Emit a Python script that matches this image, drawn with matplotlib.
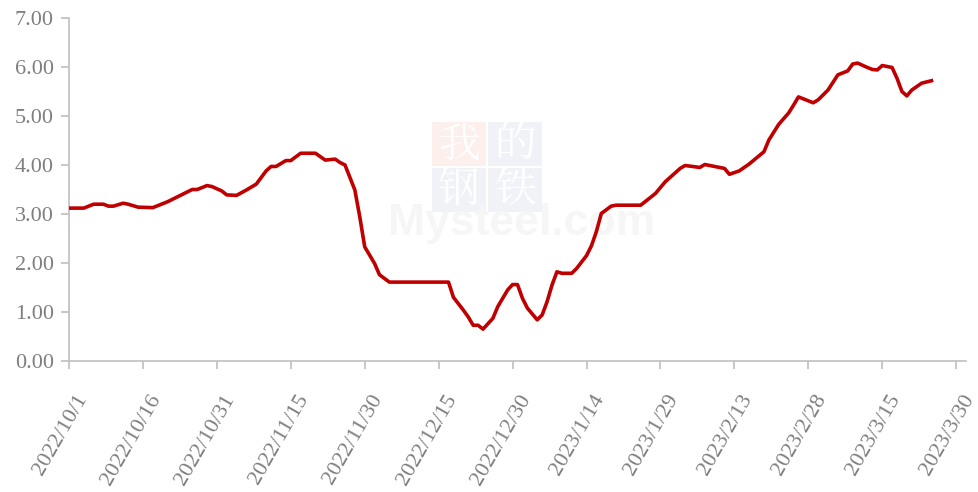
import matplotlib.pyplot as plt
import matplotlib.transforms as mtransforms
from matplotlib.patches import Rectangle
import pandas as pd

# ======================
# 数据
# ======================
dates = [
    "2022-10-01", "2022-10-04", "2022-10-06", "2022-10-08", "2022-10-09", "2022-10-10",
    "2022-10-12", "2022-10-13", "2022-10-15", "2022-10-18", "2022-10-21", "2022-10-23",
    "2022-10-26", "2022-10-27", "2022-10-29", "2022-10-30", "2022-11-01", "2022-11-02",
    "2022-11-04", "2022-11-06", "2022-11-08", "2022-11-10", "2022-11-11", "2022-11-12",
    "2022-11-14", "2022-11-15", "2022-11-17", "2022-11-20", "2022-11-22", "2022-11-24",
    "2022-11-25", "2022-11-26", "2022-11-28", "2022-11-29", "2022-11-30", "2022-12-02",
    "2022-12-03", "2022-12-05", "2022-12-17", "2022-12-18", "2022-12-20", "2022-12-21",
    "2022-12-22", "2022-12-23", "2022-12-24", "2022-12-26", "2022-12-27", "2022-12-29",
    "2022-12-30", "2022-12-31", "2023-01-01", "2023-01-02", "2023-01-04", "2023-01-05",
    "2023-01-06", "2023-01-07", "2023-01-08", "2023-01-09", "2023-01-11", "2023-01-12",
    "2023-01-14", "2023-01-15", "2023-01-16", "2023-01-17", "2023-01-19", "2023-01-20",
    "2023-01-25", "2023-01-28", "2023-01-30", "2023-02-02", "2023-02-03", "2023-02-06",
    "2023-02-07", "2023-02-11", "2023-02-12", "2023-02-14", "2023-02-16", "2023-02-19",
    "2023-02-20", "2023-02-22", "2023-02-24", "2023-02-25", "2023-02-26", "2023-02-28",
    "2023-03-01", "2023-03-02", "2023-03-04", "2023-03-06", "2023-03-08", "2023-03-09",
    "2023-03-10", "2023-03-12", "2023-03-13", "2023-03-14", "2023-03-15", "2023-03-17",
    "2023-03-18", "2023-03-19", "2023-03-20", "2023-03-21", "2023-03-23", "2023-03-25",
]
values = [
    3.12, 3.12, 3.20, 3.20, 3.16, 3.16,
    3.22, 3.20, 3.14, 3.13, 3.25, 3.35,
    3.50, 3.50, 3.58, 3.56, 3.47, 3.39,
    3.38, 3.49, 3.61, 3.88, 3.97, 3.97,
    4.09, 4.09, 4.24, 4.24, 4.10, 4.12,
    4.05, 4.00, 3.49, 2.94, 2.33, 1.99,
    1.76, 1.61, 1.61, 1.30, 1.04, 0.90,
    0.73, 0.73, 0.65, 0.87, 1.11, 1.45,
    1.56, 1.56, 1.28, 1.08, 0.84, 0.94,
    1.21, 1.55, 1.82, 1.79, 1.79, 1.89,
    2.15, 2.35, 2.64, 3.01, 3.16, 3.18,
    3.18, 3.42, 3.66, 3.93, 3.99, 3.95,
    4.01, 3.93, 3.81, 3.88, 4.02, 4.27,
    4.51, 4.83, 5.06, 5.22, 5.39, 5.31,
    5.27, 5.33, 5.53, 5.84, 5.92, 6.06,
    6.08, 5.99, 5.95, 5.94, 6.03, 5.99,
    5.77, 5.50, 5.41, 5.53, 5.67, 5.72,
]
tick_dates = pd.date_range("2022-10-01", "2023-03-30", freq="15D")
y_ticks = [0, 1, 2, 3, 4, 5, 6, 7]

grey = "#7f7f7f"
axis_grey = "#bfbfbf"
line_red = "#c00000"

fig = plt.figure(figsize=(9.79, 4.92), dpi=100)
ax = fig.add_axes([69 / 979, 1 - 361 / 492, (966 - 69) / 979, (361 - 18) / 492])

x = pd.to_datetime(dates)

# 水印（我的钢铁 Mysteel.com）
wm = fig.transFigure
def px(xp, yp):
    return xp / 979, 1 - yp / 492
box_specs = [("我", 432, 122, "#fcefec"), ("的", 488, 122, "#f0f2f7"),
             ("钢", 432, 168, "#f0f2f7"), ("铁", 488, 168, "#f0f2f7")]
for ch, bx, by, c in box_specs:
    x0, y0 = px(bx, by + 44)
    ax.add_patch(Rectangle((x0, y0), 54 / 979, 44 / 492, transform=wm,
                           facecolor=c, edgecolor="none", zorder=0))
    cx, cy = px(bx + 27, by + 23)
    ax.text(cx, cy, ch, transform=wm, ha="center", va="center", fontsize=30,
            color="white", family=["Noto Serif CJK SC", "Noto Sans CJK SC"], zorder=1)
mx, my = px(522, 224)
ax.text(mx, my, "Mysteel.com", transform=wm, ha="center", va="center",
        fontsize=32, fontweight="bold", color="#f6f6f6",
        family="Liberation Sans", zorder=1)

ax.plot(x, values, color=line_red, linewidth=2.6, solid_joinstyle="round", zorder=3)

ax.set_xlim(pd.Timestamp("2022-10-01"), pd.Timestamp("2023-04-01"))
ax.set_ylim(0, 7)
ax.set_yticks(y_ticks)
ax.set_yticklabels([f"{v:.2f}" for v in y_ticks])
ax.set_xticks(tick_dates)
ax.set_xticklabels([f"{d.year}/{d.month}/{d.day}" for d in tick_dates])

for s in ["top", "right"]:
    ax.spines[s].set_visible(False)
for s in ["left", "bottom"]:
    ax.spines[s].set_color(axis_grey)
    ax.spines[s].set_linewidth(1.2)

ax.tick_params(axis="both", colors=axis_grey, length=6, width=1.2,
               labelcolor=grey, labelsize=16)
ax.tick_params(axis="y", pad=5)
ax.tick_params(axis="x", pad=4)

for lab in ax.get_yticklabels() + ax.get_xticklabels():
    lab.set_family("Liberation Serif")

# 斜排日期标签，整体右移、下移以贴近原图位置
offset = mtransforms.ScaledTranslation(14 / 100, -21 / 100, fig.dpi_scale_trans)
for lab in ax.get_xticklabels():
    lab.set_rotation(60)
    lab.set_ha("right")
    lab.set_va("center")
    lab.set_rotation_mode("anchor")
    lab.set_transform(lab.get_transform() + offset)

plt.savefig("out.png", dpi=100)
